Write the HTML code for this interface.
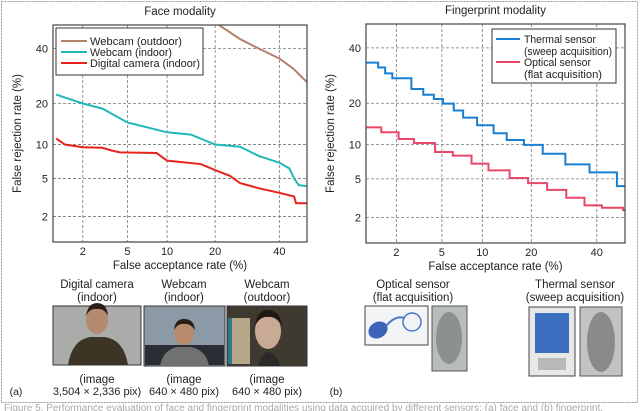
<!DOCTYPE html>
<html><head><meta charset="utf-8">
<style>
html,body{margin:0;padding:0;background:#fff;}
body{width:640px;height:411px;overflow:hidden;position:relative;font-family:"Liberation Sans",sans-serif;}
svg{position:absolute;left:0;top:0;}
text{font-family:"Liberation Sans",sans-serif;fill:#222;}
</style></head>
<body>
<svg id="fig" width="640" height="411" viewBox="0 0 640 411">
  <rect x="1.5" y="1.5" width="636" height="401" fill="none" stroke="#999" stroke-dasharray="2,1"/>
  <g id="left"></g>
  <g id="right"></g>

  <g font-size="11.5" text-anchor="middle">
    <text x="97" y="288">Digital camera</text>
    <text x="97" y="301">(indoor)</text>
    <text x="184" y="288">Webcam</text>
    <text x="184" y="301">(indoor)</text>
    <text x="267" y="288">Webcam</text>
    <text x="267" y="301">(outdoor)</text>
    <g>
      <rect x="53" y="306" width="88" height="59" fill="#a9aca8" stroke="#333"/>
      <path d="M68 365 Q72 340 90 337 L105 337 Q124 340 128 365 Z" fill="#3c3526"/>
      <ellipse cx="97" cy="320" rx="11" ry="14" fill="#b58a70"/>
      <path d="M86 316 Q88 303 97 303 Q107 303 108 316 Q104 308 97 309 Q90 308 86 316Z" fill="#2a1f18"/>
    </g>
    <g>
      <rect x="144" y="306" width="81" height="60" fill="#8c99a6" stroke="#333"/>
      <rect x="145" y="345" width="79" height="20" fill="#2a2d33"/>
      <path d="M160 366 Q163 350 177 347 L191 347 Q206 350 209 366 Z" fill="#6f7270"/>
      <ellipse cx="184" cy="333" rx="10" ry="12" fill="#b98a6c"/>
      <path d="M174 330 Q175 319 184 319 Q194 319 195 330 Q190 323 184 324 Q178 323 174 330Z" fill="#2a1f18"/>
    </g>
    <g>
      <rect x="227" y="306" width="80" height="60" fill="#3e3a30" stroke="#333"/>
      <rect x="230" y="318" width="20" height="46" fill="#b8a88a"/>
      <rect x="228" y="318" width="4" height="46" fill="#2f7a8a"/>
      <ellipse cx="268" cy="331" rx="13" ry="18" fill="#c9ab95"/>
      <path d="M255 326 Q257 310 268 310 Q280 310 282 326 Q276 316 268 317 Q260 316 255 326Z" fill="#1e1812"/>
      <path d="M258 366 Q262 352 268 352 Q276 352 280 366 Z" fill="#2a2a28"/>
    </g>
    <text x="97" y="383">(image</text>
    <text x="97" y="395" font-size="11">3,504 × 2,336 pix)</text>
    <text x="184" y="383">(image</text>
    <text x="184" y="395" font-size="11">640 × 480 pix)</text>
    <text x="267" y="383">(image</text>
    <text x="267" y="395" font-size="11">640 × 480 pix)</text>
    <text x="16" y="395" font-size="10.5">(a)</text>
    <text x="336" y="395" font-size="10.5">(b)</text>
  </g>

  <g font-size="11.5" text-anchor="middle">
    <text x="413" y="288">Optical sensor</text>
    <text x="413" y="301">(flat acquisition)</text>
    <text x="575" y="288">Thermal sensor</text>
    <text x="575" y="301">(sweep acquisition)</text>
    <g>
      <rect x="365" y="306" width="63" height="39" fill="#f2f4f6" stroke="#444"/>
      <ellipse cx="378" cy="330" rx="10" ry="8" fill="#3d63b8" transform="rotate(-30 378 330)"/>
      <ellipse cx="412" cy="322" rx="9" ry="9" fill="none" stroke="#4a78c8" stroke-width="1.5"/>
      <path d="M386 326 Q395 315 405 318" fill="none" stroke="#4a78c8" stroke-width="2"/>
    </g>
    <g>
      <rect x="432" y="306" width="35" height="65" fill="#b9bcbc" stroke="#555"/>
      <ellipse cx="449" cy="338" rx="13" ry="26" fill="#8d9090"/>
    </g>
    <g>
      <rect x="529" y="307" width="46" height="69" fill="#e8e8e8" stroke="#444"/>
      <rect x="535" y="313" width="34" height="40" fill="#3a6fc0"/>
      <rect x="538" y="358" width="28" height="12" fill="#b8b8b8"/>
    </g>
    <g>
      <rect x="580" y="307" width="42" height="69" fill="#c3c4c2" stroke="#555"/>
      <ellipse cx="601" cy="342" rx="14" ry="30" fill="#8a8b88"/>
    </g>
  </g>
  <text x="4" y="411" font-size="10" style="fill:#aaa">Figure 5. Performance evaluation of face and fingerprint modalities using data acquired by different sensors: (a) face and (b) fingerprint.</text>
</svg>
<script>
// ---- Face modality data (FA %, FRR %) ----
var outdoorFA  = [21, 27, 33, 40, 45, 50];
var outdoorFRR = [50, 44, 40, 36, 32, 27];
var indoorFA   = [1.08, 2, 3.05, 5, 10, 14.4, 20, 27, 33, 40, 43.6, 45.3, 47, 50];
var indoorFRR  = [22.8, 20, 18.5, 14.8, 12.5, 12, 10, 9.6, 8, 7, 6.2, 5, 4.3, 4.2];
var digitalFA  = [1.08, 1.33, 2, 3.05, 3.7, 4.35, 8.4, 10, 16.5, 20, 24, 27, 33, 40, 45.3, 46, 50];
var digitalFRR = [11.2, 10, 9.5, 9.4, 8.9, 8.6, 8.5, 7.3, 6.8, 6, 5.3, 4.5, 4, 3.6, 3.3, 2.8, 2.8];
// ---- Fingerprint modality data (step breakpoints FA %, FRR level %) ----
var thermalFA  = [1.0, 1.33, 1.56, 1.83, 2.75, 3.5, 4.3, 5.1, 6.2, 7.3, 9.2, 11.9, 14.4, 18.2, 23, 29.6, 37.5, 47.1];
var thermalFRR = [34.1, 32.2, 30, 28.2, 24.5, 22.6, 21.3, 19.9, 17.9, 16, 14.1, 12.3, 10.9, 9.95, 8.4, 6.8, 5.75, 4.25];
var opticalFA  = [1.0, 1.43, 2.1, 2.9, 4.4, 6.1, 8.4, 11, 15, 19.2, 24.2, 29.9, 35.8, 41.8, 49.3];
var opticalFRR = [13.6, 12.5, 11.1, 10.3, 8.7, 8.1, 6.9, 6.0, 5.1, 4.55, 3.9, 3.25, 2.7, 2.55, 2.4];
var tickValues = [2, 5, 10, 20, 40];
var tickLabels = ["2", "5", "10", "20", "40"];

var NS = "http://www.w3.org/2000/svg";
function probit(p){
  var a=[-39.69683028665376,220.9460984245205,-275.9285104469687,138.3577518672690,-30.66479806614716,2.506628277459239];
  var b=[-54.47609879822406,161.5858368580409,-155.6989798598866,66.80131188771972,-13.28068155288572];
  var c=[-0.007784894002430293,-0.3223964580411365,-2.400758277161838,-2.549732539343734,4.374664141464968,2.938163982698783];
  var d=[0.007784695709041462,0.3224671290700398,2.445134137142996,3.754408661907416];
  var q,r;
  if(p<0.02425){q=Math.sqrt(-2*Math.log(p));return (((((c[0]*q+c[1])*q+c[2])*q+c[3])*q+c[4])*q+c[5])/((((d[0]*q+d[1])*q+d[2])*q+d[3])*q+1);}
  if(p>1-0.02425){q=Math.sqrt(-2*Math.log(1-p));return -(((((c[0]*q+c[1])*q+c[2])*q+c[3])*q+c[4])*q+c[5])/((((d[0]*q+d[1])*q+d[2])*q+d[3])*q+1);}
  q=p-0.5;r=q*q;return (((((a[0]*r+a[1])*r+a[2])*r+a[3])*r+a[4])*r+a[5])*q/(((((b[0]*r+b[1])*r+b[2])*r+b[3])*r+b[4])*r+1);
}
function el(parent,tag,attrs){var e=document.createElementNS(NS,tag);for(var k in attrs)e.setAttribute(k,attrs[k]);parent.appendChild(e);return e;}

function makeAxes(g,box){
  var pLo=probit(0.01),pHi=probit(0.5);
  var sx=function(v){return box.x0+(probit(v/100)-pLo)/(pHi-pLo)*(box.x1-box.x0);};
  var sy=function(v){return box.y1-(probit(v/100)-pLo)/(pHi-pLo)*(box.y1-box.y0);};
  var grid=el(g,"g",{});
  
  
  for(var i=0;i<tickValues.length;i++){
    var X=sx(tickValues[i]),Y=sy(tickValues[i]);
    var gl=el(grid,"line",{x1:X,x2:X,y1:box.y0,y2:box.y1,stroke:"#777","stroke-width":0.8,"stroke-dasharray":"3,2"});
    
    
    var gh=el(grid,"line",{x1:box.x0,x2:box.x1,y1:Y,y2:Y,stroke:"#777","stroke-width":0.8,"stroke-dasharray":"3,2"});
    
    
    var tx=el(g,"text",{x:X,y:box.y1+13,"font-size":11,"text-anchor":"middle"});
    tx.textContent=tickLabels[i];
    
    
    var ty=el(g,"text",{x:box.x0-5,y:Y+4,"font-size":11,"text-anchor":"end"});
    ty.textContent=tickLabels[i];
    
    
  }
  return {sx:sx,sy:sy};
}
function frame(g,box){
  var r=el(g,"rect",{x:box.x0,y:box.y0,width:box.x1-box.x0,height:box.y1-box.y0,fill:"none",stroke:"#444","stroke-width":1.2});
  
  
}
function labels(g,box,title){
  var cx=(box.x0+box.x1)/2;
  var t=el(g,"text",{x:cx,y:box.y0-10,"font-size":11.5,"text-anchor":"middle"});t.textContent=title;
  
  
  var xl=el(g,"text",{x:cx,y:box.y1+27,"font-size":11.5,"text-anchor":"middle"});xl.textContent="False acceptance rate (%)";
  
  
  var cy=(box.y0+box.y1)/2,lx=box.x0-32;
  var yl=el(g,"text",{x:lx,y:cy,"font-size":11.5,"text-anchor":"middle",transform:"rotate(-90 "+lx+" "+cy+")"});yl.textContent="False rejection rate (%)";
  
  
}
function clipFor(g,id,box){
  var cp=el(g,"clipPath",{id:id});el(cp,"rect",{x:box.x0,y:box.y0,width:box.x1-box.x0,height:box.y1-box.y0});
}
function lineSeries(g,ax,fa,frr,color,name,clip,stepped,endFA){
  var d="";
  for(var i=0;i<fa.length;i++){
    var X=ax.sx(fa[i]),Y=ax.sy(frr[i]);
    if(i===0)d+="M"+X+" "+Y;
    else if(stepped)d+=" H"+X+" V"+Y;
    else d+=" L"+X+" "+Y;
  }
  if(stepped)d+=" H"+ax.sx(endFA);
  var p=el(g,"path",{d:d,fill:"none",stroke:color,"stroke-width":2,"clip-path":"url(#"+clip+")"});
  
  
}
function legend(g,x,y,w,h,items){
  var lg=el(g,"g",{});
  
  
  el(lg,"rect",{x:x,y:y,width:w,height:h,fill:"#fff",stroke:"#333","stroke-width":1});
  items.forEach(function(it){
    var e=el(lg,"g",{});
    
    
    el(e,"line",{x1:it.lx1,x2:it.lx2,y1:it.ly,y2:it.ly,stroke:it.color,"stroke-width":2});
    it.lines.forEach(function(s,k){
      var t=el(e,"text",{x:it.tx,y:it.ty+k*12,"font-size":11,textLength:it.tl[k],lengthAdjust:"spacingAndGlyphs"});t.textContent=s;
    });
  });
}

var gL=document.getElementById("left");
var boxL={x0:53,x1:307,y0:25,y1:242};
clipFor(gL,"clipL",boxL);
var axL=makeAxes(gL,boxL);
lineSeries(gL,axL,outdoorFA,outdoorFRR,"#b58068","webcam-outdoor-line","clipL",false);
lineSeries(gL,axL,indoorFA,indoorFRR,"#22b8b8","webcam-indoor-line","clipL",false);
lineSeries(gL,axL,digitalFA,digitalFRR,"#e8231e","digital-camera-line","clipL",false);
frame(gL,boxL);labels(gL,boxL,"Face modality");
legend(gL,56,28,147,47,[
 {color:"#b58068",lx1:61,lx2:87,ly:41,tx:90,ty:45,lines:["Webcam (outdoor)"],tl:[92]},
 {color:"#22b8b8",lx1:61,lx2:87,ly:52,tx:90,ty:56,lines:["Webcam (indoor)"],tl:[82]},
 {color:"#e8231e",lx1:61,lx2:87,ly:63,tx:90,ty:67,lines:["Digital camera (indoor)"],tl:[110]}
]);

var gR=document.getElementById("right");
var boxR={x0:366,x1:625,y0:24,y1:243};
clipFor(gR,"clipR",boxR);
var axR=makeAxes(gR,boxR);
lineSeries(gR,axR,thermalFA,thermalFRR,"#1a7fd0","thermal-sensor-line","clipR",true,50);
lineSeries(gR,axR,opticalFA,opticalFRR,"#e84868","optical-sensor-line","clipR",true,50);
frame(gR,boxR);labels(gR,boxR,"Fingerprint modality");
legend(gR,492,29,124,54,[
 {color:"#1a7fd0",lx1:496,lx2:520,ly:39,tx:524,ty:43,lines:["Thermal sensor","(sweep acquisition)"],tl:[72,88]},
 {color:"#e84868",lx1:496,lx2:520,ly:62,tx:524,ty:66,lines:["Optical sensor","(flat acquisition)"],tl:[67,78]}
]);
</script>
</body></html>
